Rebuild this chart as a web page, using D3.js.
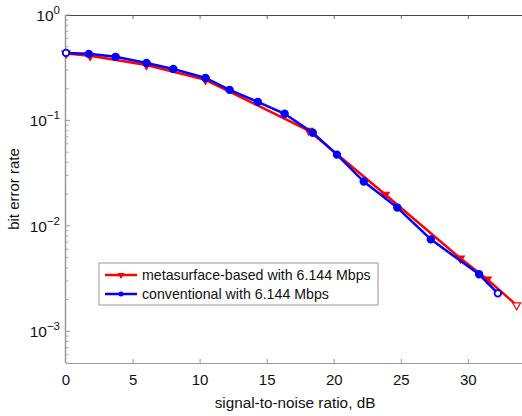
<!DOCTYPE html>
<html>
<head>
<meta charset="utf-8">
<script src="https://cdn.jsdelivr.net/npm/d3@7"></script>
<style>
  body { margin: 0; background: #fff; }
  svg { font-family: "Liberation Sans", Arial, sans-serif; }
</style>
</head>
<body>
<div id="chart"></div>
<script>
const width = 522;
const height = 416;
const margin = { top: 15, right: 0, bottom: 53, left: 66 };

// conventional with 6.144 Mbps
const snrConv = [0, 1.7, 3.7, 6.0, 8.0, 10.4, 12.2, 14.3, 16.3, 18.4, 20.2, 22.2, 24.7, 27.2, 30.8, 32.2];
const berConv = [0.437, 0.428, 0.401, 0.351, 0.308, 0.253, 0.195, 0.150, 0.1157, 0.0765, 0.0474, 0.0263, 0.0149, 0.00744, 0.00347, 0.00229];

// metasurface-based with 6.144 Mbps
const snrMeta = [0, 1.8, 6.0, 10.4, 18.1, 23.8, 29.4, 31.4, 33.6];
const berMeta = [0.432, 0.41, 0.336, 0.243, 0.080, 0.0198, 0.00492, 0.00311, 0.00177];

const xTicks = [0, 5, 10, 15, 20, 25, 30];
const yDecades = [0, -1, -2, -3];

const svg = d3.select("#chart").append("svg")
  .attr("width", width)
  .attr("height", height);

const x = d3.scaleLinear().domain([0, 34]).range([margin.left, width - margin.right]);
const y = d3.scaleLog().domain([5e-4, 1]).range([height - margin.bottom, margin.top]);

const x0 = x.range()[0], x1 = x.range()[1];
const yTop = y.range()[1], yBot = y.range()[0];

// frame
svg.append("line").attr("x1", x0).attr("x2", x1).attr("y1", yTop + 0.5).attr("y2", yTop + 0.5)
  .attr("stroke", "#444").attr("stroke-width", 1.2);
svg.append("line").attr("x1", x0).attr("x2", x1).attr("y1", yBot + 0.5).attr("y2", yBot + 0.5)
  .attr("stroke", "#999").attr("stroke-width", 1.2);
svg.append("line").attr("x1", x0 - 0.5).attr("x2", x0 - 0.5).attr("y1", yTop).attr("y2", yBot)
  .attr("stroke", "#999").attr("stroke-width", 1.5);

// x ticks (inward, top and bottom)
const xt = svg.append("g");
xTicks.filter(d => d > 0).forEach(d => {
  xt.append("line").attr("x1", x(d)).attr("x2", x(d)).attr("y1", yBot).attr("y2", yBot - 4)
    .attr("stroke", "#999");
  xt.append("line").attr("x1", x(d)).attr("x2", x(d)).attr("y1", yTop).attr("y2", yTop + 4)
    .attr("stroke", "#666");
});
xTicks.forEach(d => {
  xt.append("text").attr("x", x(d)).attr("y", yBot + 22)
    .attr("text-anchor", "middle").style("font-size", "15px").attr("fill", "#111")
    .text(d);
});

// y ticks: major + minor
const yt = svg.append("g");
yDecades.forEach(p => {
  const v = Math.pow(10, p);
  yt.append("line").attr("x1", x0).attr("x2", x0 + 4).attr("y1", y(v)).attr("y2", y(v))
    .attr("stroke", "#999");
  const t = yt.append("text").attr("x", x0 - 6).attr("y", y(v) + 6)
    .attr("text-anchor", "end").attr("fill", "#111").style("font-size", "15.5px");
  t.append("tspan").text("10");
  t.append("tspan").attr("dy", -7).style("font-size", "11.5px")
    .text(p === 0 ? "0" : "\u2212" + (-p));
});
for (let p = -4; p < 0; p++) {
  for (let m = 2; m <= 9; m++) {
    const v = m * Math.pow(10, p);
    if (v < 5e-4 || v > 1) continue;
    yt.append("line").attr("x1", x0).attr("x2", x0 + 2.5).attr("y1", y(v)).attr("y2", y(v))
      .attr("stroke", "#aaa");
  }
}

// axis labels
svg.append("text").attr("x", (x0 + x1) / 2 + 1).attr("y", yBot + 45)
  .attr("text-anchor", "middle").style("font-size", "15.3px").attr("fill", "#111")
  .text("signal-to-noise ratio, dB");
svg.append("text").attr("transform", `translate(19, ${(yTop + yBot) / 2}) rotate(-90)`)
  .attr("text-anchor", "middle").style("font-size", "15px").attr("fill", "#111")
  .text("bit error rate");

const line = d3.line().x(d => x(d[0])).y(d => y(d[1]));
const metaData = snrMeta.map((d, i) => [d, berMeta[i]]);
const convData = snrConv.map((d, i) => [d, berConv[i]]);

const tri = d3.symbol().type(d3.symbolTriangle).size(28);

// red series
svg.append("path").datum(metaData).attr("d", line)
  .attr("fill", "none").attr("stroke", "#f00").attr("stroke-width", 2.5);
svg.selectAll(".meta").data(metaData).enter().append("path")
  .attr("class", "meta")
  .attr("d", tri)
  .attr("transform", d => `translate(${x(d[0])},${y(d[1])}) rotate(180)`)
  .attr("fill", (d, i) => i === metaData.length - 1 ? "#fff" : "#f00")
  .attr("stroke", "#f00").attr("stroke-width", 1.2);

// blue series
svg.append("path").datum(convData).attr("d", line)
  .attr("fill", "none").attr("stroke", "#00f").attr("stroke-width", 2.5);
svg.selectAll(".conv").data(convData).enter().append("circle")
  .attr("class", "conv")
  .attr("cx", d => x(d[0])).attr("cy", d => y(d[1])).attr("r", 3.3)
  .attr("fill", (d, i) => (i === 0 || i === convData.length - 1) ? "#fff" : "#00f")
  .attr("stroke", "#00f").attr("stroke-width", 1.8);

// legend
const lg = svg.append("g").attr("transform", "translate(99,263)");
lg.append("rect").attr("width", 279).attr("height", 42)
  .attr("fill", "#fff").attr("stroke", "#aaa").attr("stroke-width", 1.2);
const legendItems = [
  { label: "metasurface-based with 6.144 Mbps", color: "#f00", type: "tri" },
  { label: "conventional with 6.144 Mbps", color: "#00f", type: "circle" }
];
legendItems.forEach((it, i) => {
  const yy = 12 + i * 19;
  lg.append("line").attr("x1", 6).attr("x2", 38).attr("y1", yy).attr("y2", yy)
    .attr("stroke", it.color).attr("stroke-width", 2.5);
  if (it.type === "tri") {
    lg.append("path").attr("d", d3.symbol().type(d3.symbolTriangle).size(22))
      .attr("transform", `translate(22,${yy}) rotate(180)`).attr("fill", it.color);
  } else {
    lg.append("circle").attr("cx", 22).attr("cy", yy).attr("r", 2.5).attr("fill", it.color);
  }
  lg.append("text").attr("x", 43).attr("y", yy + 5)
    .style("font-size", "14.2px").attr("fill", "#111").text(it.label);
});
</script>
</body>
</html>
